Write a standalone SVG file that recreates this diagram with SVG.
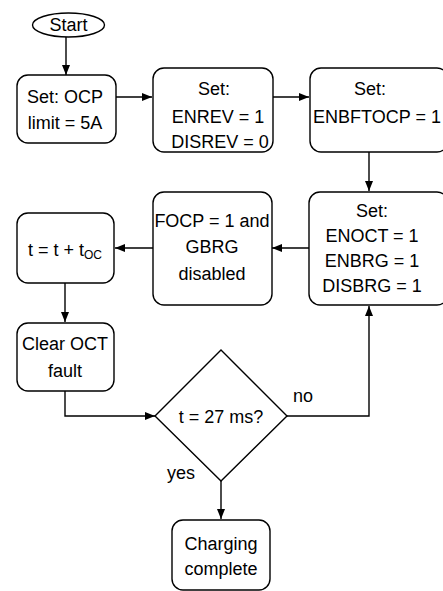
<svg xmlns="http://www.w3.org/2000/svg" width="443" height="591" viewBox="0 0 443 591">
<defs>
<marker id="ah" viewBox="0 0 10 8" refX="10" refY="4" markerWidth="10" markerHeight="8" markerUnits="userSpaceOnUse" orient="auto">
<path d="M0,0 L10,4 L0,8 Z" fill="#000"/>
</marker>
<style>
.n{fill:#fff;stroke:#000;stroke-width:1.4}
.t{font-family:"Liberation Sans",Arial,sans-serif;font-size:18px;fill:#000;text-anchor:middle}
.c{fill:none;stroke:#000;stroke-width:1.4;marker-end:url(#ah)}
</style>
</defs>
<rect width="443" height="591" fill="#fff"/>
<g id="connectors">
<path class="c" d="M66,37 V75"/>
<path class="c" d="M116,97 H152"/>
<path class="c" d="M273,97 H309"/>
<path class="c" d="M369,152 V191"/>
<path class="c" d="M309,248 H272"/>
<path class="c" d="M153,248 H115"/>
<path class="c" d="M65,283 V322"/>
<path class="c" d="M65,391 V416 H155"/>
<path class="c" d="M287,416 H369 V306"/>
<path class="c" d="M221,481 V519"/>
</g>
<g id="start">
<ellipse class="n" cx="68.5" cy="25" rx="36" ry="12"/>
<text class="t" x="68.5" y="31">Start</text>
</g>
<g id="ocp">
<rect class="n" x="17" y="75" width="99" height="68" rx="11"/>
<text class="t" x="65" y="103">Set: OCP</text>
<text class="t" x="65" y="129">limit = 5A</text>
</g>
<g id="enrev">
<rect class="n" x="153" y="68" width="120" height="84" rx="11"/>
<text class="t" x="214" y="95">Set:</text>
<text class="t" x="218" y="123">ENREV = 1</text>
<text class="t" x="220" y="148">DISREV = 0</text>
</g>
<g id="enbftocp">
<rect class="n" x="310" y="68" width="138" height="84" rx="11"/>
<text class="t" x="370" y="95">Set:</text>
<text class="t" x="377" y="123">ENBFTOCP = 1</text>
</g>
<g id="enoct">
<rect class="n" x="309" y="192" width="139" height="113" rx="11"/>
<text class="t" x="372" y="217">Set:</text>
<text class="t" x="372" y="242">ENOCT = 1</text>
<text class="t" x="372" y="267">ENBRG = 1</text>
<text class="t" x="372" y="292">DISBRG = 1</text>
</g>
<g id="focp">
<rect class="n" x="153" y="192" width="119" height="113" rx="11"/>
<text class="t" x="212" y="227">FOCP = 1 and</text>
<text class="t" x="212" y="253">GBRG</text>
<text class="t" x="212" y="280">disabled</text>
</g>
<g id="tinc">
<rect class="n" x="17" y="213" width="97" height="70" rx="11"/>
<text class="t" x="65" y="256">t = t + t<tspan font-size="12" dy="3">OC</tspan></text>
</g>
<g id="clear">
<rect class="n" x="17" y="323" width="97" height="68" rx="11"/>
<text class="t" x="65" y="350">Clear OCT</text>
<text class="t" x="65" y="377">fault</text>
</g>
<g id="decision">
<path class="n" d="M221,350 L287,416 L221,481 L155,416 Z"/>
<text class="t" x="221" y="423">t = 27 ms?</text>
<text class="t" x="303" y="402">no</text>
<text class="t" x="181" y="479">yes</text>
</g>
<g id="done">
<rect class="n" x="172" y="520" width="98" height="70" rx="11"/>
<text class="t" x="221" y="550">Charging</text>
<text class="t" x="221" y="575">complete</text>
</g>
</svg>
